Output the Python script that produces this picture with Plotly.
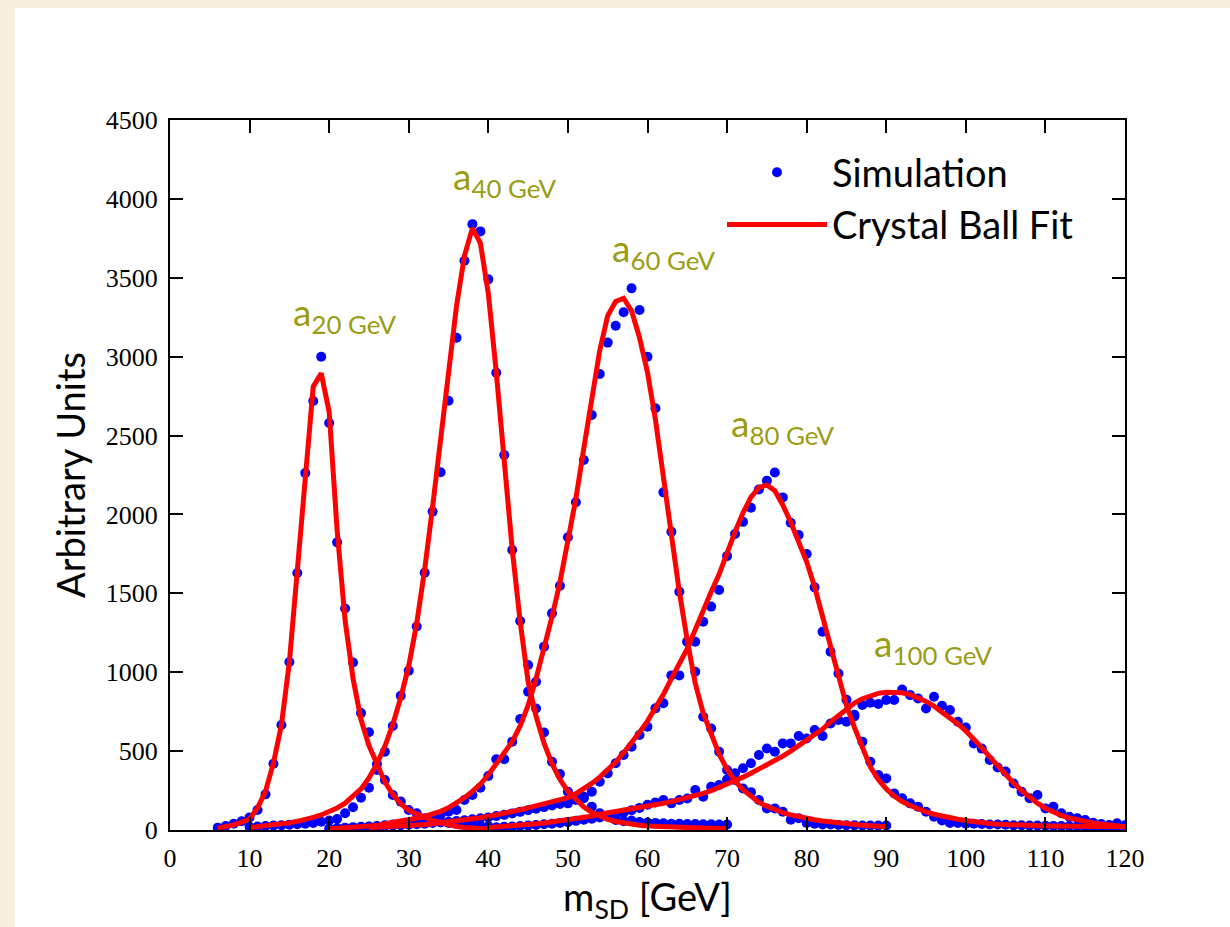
import plotly.graph_objects as go

# ---------------- data ----------------
mass_labels = ["20 GeV", "40 GeV", "60 GeV", "80 GeV", "100 GeV"]

sim_20_x = list(range(6, 41))
sim_20_y = [15, 25, 40, 55, 80, 127, 226, 420, 665, 1065, 1629, 2262, 2719, 3000,
            2580, 1823, 1404, 1062, 741, 620, 380, 317, 222, 180, 127, 106, 75, 60,
            50, 45, 40, 35, 30, 28, 25]

sim_40_x = list(range(10, 71))
sim_40_y = [20, 22, 25, 28, 30, 33, 36, 40, 45, 52,
            60, 70, 106, 144, 205, 268, 418, 496, 659, 851,
            1010, 1290, 1631, 2018, 2267, 2721, 3120, 3608, 3840, 3794,
            3490, 2898, 2377, 1775, 1325, 1046, 770, 618, 433, 355,
            243, 211, 201, 148, 106, 90, 63, 55, 60, 50,
            48, 45, 42, 40, 40, 38, 38, 36, 36, 35, 35]

sim_60_x = list(range(20, 91))
sim_60_y = [10, 12, 15, 18, 20, 22, 25, 30, 35, 40,
            45, 50, 60, 75, 95, 116, 127, 190, 222, 268,
            342, 448, 448, 560, 703, 877, 940, 1162, 1373, 1548,
            1855, 2077, 2345, 2630, 2890, 3089, 3196, 3282, 3433, 3296,
            3000, 2673, 2140, 1890, 1510, 1193, 1003, 718, 643, 496,
            380, 317, 263, 240, 190, 137, 137, 116, 65, 74,
            45, 40, 35, 35, 32, 30, 30, 28, 28, 28, 28]

sim_80_x = list(range(25, 121))
sim_80_y = [20, 22, 25, 28, 30,
            33, 36, 40, 44, 48, 52, 57, 62, 68, 74,
            80, 88, 96, 105, 115, 125, 135, 145, 155, 165,
            169, 190, 211, 243, 306, 359, 423, 475, 528, 602,
            655, 771, 803, 980, 980, 1193, 1193, 1320, 1416, 1521,
            1736, 1876, 1953, 2042, 2158, 2213, 2266, 2108, 1947, 1870,
            1749, 1538, 1257, 1130, 992, 825, 720, 560, 433, 349,
            327, 232, 201, 169, 148, 116, 84, 60, 45, 45,
            40, 40, 38, 35, 35, 33, 30, 30, 28, 28,
            27, 26, 25, 25, 24, 23, 22, 22, 21, 20, 20]

sim_100_x = list(range(40, 121))
sim_100_y = [15, 17, 20, 22, 25, 28, 32, 36, 40, 45,
             50, 58, 65, 72, 80, 88, 95, 110, 125, 140,
             160, 175, 190, 169, 190, 200, 253, 211, 274, 285,
             320, 360, 391, 423, 475, 517, 496, 549, 549, 596,
             580, 634, 596, 675, 697, 686, 730, 792, 807, 799,
             824, 824, 891, 855, 834, 770, 845, 787, 760, 686,
             650, 549, 516, 444, 396, 370, 295, 243, 201, 222,
             137, 148, 106, 84, 74, 63, 46, 38, 32, 42, 30]

fit_20_x = list(range(6, 41))
fit_20_y = [12, 20, 32, 50, 70, 140, 245, 425, 665, 1065, 1640, 2250, 2810, 2895,
            2650, 1900, 1330, 960, 700, 535, 420, 305, 225, 165, 125, 100, 80, 60,
            45, 32, 22, 16, 12, 9, 6]

fit_40_x = list(range(10, 71))
fit_40_y = [15, 20, 25, 30, 38, 45, 55, 65, 80, 95,
            115, 140, 170, 210, 260, 330, 420, 530, 670, 840,
            1040, 1310, 1650, 2050, 2480, 2920, 3320, 3640, 3815, 3720,
            3400, 2900, 2330, 1780, 1320, 940, 720, 550, 420, 320,
            245, 190, 145, 112, 86, 68, 54, 44, 36, 30,
            25, 22, 19, 17, 15, 14, 13, 12, 11, 10, 10]

fit_60_x = list(range(20, 91))
fit_60_y = [8, 10, 12, 15, 18, 23, 28, 40, 47, 55,
            64, 74, 86, 100, 118, 140, 170, 205, 245, 290,
            350, 420, 480, 560, 660, 790, 960, 1150, 1350, 1570,
            1840, 2100, 2420, 2730, 3040, 3260, 3350, 3370, 3290, 3120,
            2900, 2600, 2220, 1860, 1510, 1200, 930, 740, 600, 480,
            385, 310, 255, 210, 175, 150, 128, 110, 96, 84,
            74, 65, 57, 50, 44, 39, 34, 30, 27, 24, 21]

fit_80_x = list(range(25, 121))
fit_80_y = [15, 17, 19, 22, 25,
            28, 31, 35, 40, 45, 50, 56, 63, 70, 78,
            86, 95, 105, 116, 128, 140, 152, 166, 180, 192,
            205, 230, 260, 295, 335, 380, 430, 490, 550, 620,
            690, 770, 860, 960, 1050, 1150, 1270, 1400, 1510, 1620,
            1760, 1890, 2010, 2110, 2170, 2187, 2150, 2060, 1950, 1830,
            1700, 1540, 1350, 1170, 980, 790, 650, 520, 400, 320,
            260, 215, 180, 155, 132, 115, 100, 88, 78, 68,
            60, 52, 46, 41, 37, 34, 32, 30, 28, 27,
            26, 25, 24, 23, 22, 22, 21, 21, 20, 20, 20]

fit_100_x = list(range(40, 121))
fit_100_y = [15, 18, 22, 26, 30, 35, 40, 45, 51, 57,
             63, 70, 78, 88, 100, 108, 116, 124, 132, 140,
             150, 160, 170, 180, 192, 204, 217, 232, 250, 270,
             290, 312, 335, 360, 385, 412, 440, 468, 500, 535,
             565, 600, 640, 685, 728, 770, 805, 832, 852, 866,
             873, 875, 870, 858, 840, 815, 785, 750, 712, 672,
             628, 578, 522, 463, 405, 350, 298, 250, 207, 170,
             138, 112, 92, 76, 63, 53, 45, 38, 32, 26, 21]

label_x = [22, 42.1, 62.1, 77, 95.9]
label_y = [3270, 4130, 3675, 2565, 1170]

sims = [(sim_20_x, sim_20_y), (sim_40_x, sim_40_y), (sim_60_x, sim_60_y),
        (sim_80_x, sim_80_y), (sim_100_x, sim_100_y)]
fits = [(fit_20_x, fit_20_y), (fit_40_x, fit_40_y), (fit_60_x, fit_60_y),
        (fit_80_x, fit_80_y), (fit_100_x, fit_100_y)]

# ---------------- figure ----------------
W, H = 1230, 927
L, R, T, B = 170, 105, 120, 97
PW, PH = W - L - R, H - T - B

def px_to_paper_x(px):
    return (px - L) / PW

def px_to_paper_y(py):
    return (H - B - py) / PH

fig = go.Figure()

for i, (xs, ys) in enumerate(sims):
    fig.add_trace(go.Scatter(
        x=xs, y=ys, mode="markers", name="Simulation",
        marker=dict(color="#0000ff", size=10),
        showlegend=(i == 0), legendrank=1))

for i, (xs, ys) in enumerate(fits):
    fig.add_trace(go.Scatter(
        x=xs, y=ys, mode="lines", name="Crystal Ball Fit",
        line=dict(color="#ff0000", width=5),
        showlegend=(i == 0), legendrank=2))

olive = "#9a9c14"
for lbl, lx, ly in zip(mass_labels, label_x, label_y):
    fig.add_annotation(x=lx, y=ly, text=f"a<sub>{lbl}</sub>", showarrow=False,
                       font=dict(family="Lato", size=37, color=olive),
                       xanchor="center", yanchor="middle")

# white sheet on the beige paper
fig.add_shape(type="rect", xref="paper", yref="paper",
              x0=px_to_paper_x(15), x1=px_to_paper_x(1235),
              y0=px_to_paper_y(935), y1=px_to_paper_y(8),
              fillcolor="white", line=dict(width=0), layer="below")

tickfont = dict(family="Liberation Serif", size=26, color="black")
axis_common = dict(showline=True, linewidth=2, linecolor="black", mirror="ticks",
                   ticks="inside", ticklen=13, tickwidth=2, tickcolor="black",
                   showgrid=False, zeroline=False, tickfont=tickfont)

fig.update_xaxes(range=[0, 120], tick0=0, dtick=10,
                 title=dict(text="m<sub>SD</sub> [GeV]",
                            font=dict(family="Lato", size=38, color="black"),
                            standoff=8),
                 ticklabelstandoff=4, **axis_common)
fig.update_yaxes(range=[0, 4500], tick0=0, dtick=500,
                 title=dict(text="Arbitrary Units",
                            font=dict(family="Lato", size=38, color="black"),
                            standoff=8),
                 ticklabelstandoff=5, **axis_common)

fig.update_layout(
    width=W, height=H,
    margin=dict(l=L, r=R, t=T, b=B),
    paper_bgcolor="#f7efdf", plot_bgcolor="white",
    legend=dict(x=px_to_paper_x(722), y=px_to_paper_y(141), xanchor="left", yanchor="top",
                bgcolor="rgba(0,0,0,0)", borderwidth=0, itemwidth=100,
                font=dict(family="Lato", size=38, color="black")),
)

fig.write_html("out.html")
